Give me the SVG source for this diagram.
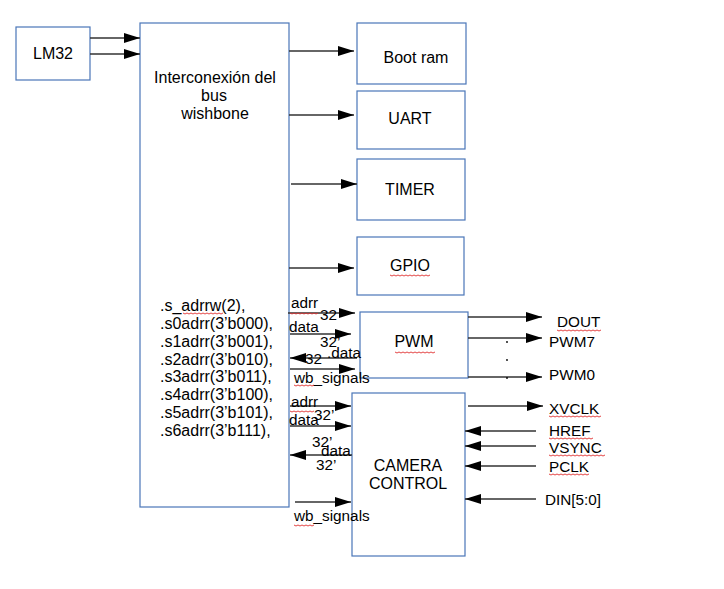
<svg xmlns="http://www.w3.org/2000/svg" width="724" height="589" viewBox="0 0 724 589">
<defs>
<marker id="ah" markerUnits="userSpaceOnUse" markerWidth="16" markerHeight="10" refX="16" refY="5" orient="auto">
<path d="M0,0 L16,5 L0,10 z" fill="#000"/>
</marker>
<style>
.box{fill:#fff;stroke:#4a76b8;stroke-width:1.2}
.t{font-family:"Liberation Sans",Arial,sans-serif;font-size:16px;fill:#000}
.s{font-family:"Liberation Sans",Arial,sans-serif;font-size:15.3px;fill:#000}
.c{text-anchor:middle}
.ln{stroke:#333;stroke-width:1.3;fill:none;marker-end:url(#ah)}
.sq{stroke:#e03030;stroke-width:0.9;fill:none}
</style>
</defs>
<rect width="724" height="589" fill="#fff"/>

<g id="lm32"><rect class="box" x="16" y="27" width="74" height="53"/><text class="t c" x="53" y="59">LM32</text></g>
<g id="bus"><rect class="box" x="140" y="23" width="149" height="484"/>
<text class="t c" x="215" y="83">Interconexión del</text>
<text class="t c" x="214" y="101">bus</text>
<text class="t c" x="215" y="119">wishbone</text>
<text class="t" x="160" y="311">.s_adrrw(2),</text>
<text class="t" x="160" y="329">.s0adrr(3’b000),</text>
<text class="t" x="160" y="347">.s1adrr(3’b001),</text>
<text class="t" x="160" y="365">.s2adrr(3’b010),</text>
<text class="t" x="160" y="382">.s3adrr(3’b011),</text>
<text class="t" x="160" y="400">.s4adrr(3’b100),</text>
<text class="t" x="160" y="418">.s5adrr(3’b101),</text>
<text class="t" x="160" y="436">.s6adrr(3’b111),</text>
</g>
<g id="bootram"><rect class="box" x="357" y="23" width="109" height="61"/><text class="t c" x="416" y="63">Boot ram</text></g>
<g id="uart"><rect class="box" x="357" y="91" width="108" height="58"/><text class="t c" x="410" y="124">UART</text></g>
<g id="timer"><rect class="box" x="357" y="159" width="108" height="61"/><text class="t c" x="410" y="195">TIMER</text></g>
<g id="gpio"><rect class="box" x="357" y="237" width="107" height="58"/><text class="t c" x="410" y="271">GPIO</text></g>
<g id="pwm"><rect class="box" x="360" y="312" width="108" height="66"/><text class="t c" x="414" y="347">PWM</text></g>
<g id="camera"><rect class="box" x="352" y="393" width="113" height="163"/>
<text class="t c" x="408" y="471">CAMERA</text>
<text class="t c" x="408" y="489">CONTROL</text></g>

<g id="connectors">
<line class="ln" x1="90" y1="38" x2="140" y2="38"/>
<line class="ln" x1="90" y1="54" x2="140" y2="54"/>
<line class="ln" x1="289" y1="51" x2="354" y2="51"/>
<line class="ln" x1="289" y1="115" x2="354" y2="115"/>
<line class="ln" x1="291" y1="184" x2="357" y2="184"/>
<line class="ln" x1="289" y1="268" x2="354" y2="268"/>
<line class="ln" x1="288" y1="313" x2="355" y2="313"/>
<line class="ln" x1="290" y1="334" x2="351" y2="334"/>
<line class="ln" x1="357" y1="358" x2="290" y2="358"/>
<line class="ln" x1="290" y1="369" x2="355" y2="369"/>
<line class="ln" x1="468" y1="317" x2="542" y2="317"/>
<line class="ln" x1="468" y1="338" x2="542" y2="338"/>
<line class="ln" x1="468" y1="377" x2="542" y2="377"/>
<line class="ln" x1="290" y1="406" x2="351" y2="406"/>
<line class="ln" x1="290" y1="426" x2="351" y2="426"/>
<line class="ln" x1="352" y1="455" x2="290" y2="455"/>
<line class="ln" x1="295" y1="502" x2="351" y2="502"/>
<line class="ln" x1="468" y1="406" x2="543" y2="406"/>
<line class="ln" x1="536" y1="431" x2="465" y2="431"/>
<line class="ln" x1="536" y1="446" x2="465" y2="446"/>
<line class="ln" x1="536" y1="466" x2="465" y2="466"/>
<line class="ln" x1="536" y1="499" x2="465" y2="499"/>
</g>

<g id="labels">
<text class="s" x="291" y="308">adrr</text>
<text class="s" x="320" y="320">32</text>
<text class="s" x="289" y="332">data</text>
<text class="s" x="320" y="347">32’</text>
<text class="s" x="327" y="358">.data</text>
<text class="s" x="305" y="364">32</text>
<text class="s" x="294" y="383">wb_signals</text>
<text class="s" x="291" y="407">adrr</text>
<text class="s" x="314" y="420">32’</text>
<text class="s" x="289" y="425">data</text>
<text class="s" x="312" y="447">32’</text>
<text class="s" x="321" y="456">data</text>
<text class="s" x="316" y="470">32’</text>
<text class="s" x="294" y="521">wb_signals</text>
<text class="s" x="557" y="327">DOUT</text>
<text class="s" x="549" y="347">PWM7</text>
<text class="s" x="549" y="380">PWM0</text>
<circle cx="507" cy="342" r="0.9" fill="#000"/>
<circle cx="507" cy="360" r="0.9" fill="#000"/>
<circle cx="507" cy="378" r="0.9" fill="#000"/>
<text class="s" x="549" y="414">XVCLK</text>
<text class="s" x="549" y="436">HREF</text>
<text class="s" x="549" y="453">VSYNC</text>
<text class="s" x="549" y="472">PCLK</text>
<text class="s" x="545" y="505">DIN[5:0]</text>
</g>

<g id="spellcheck">
<path class="sq" d="M390,275 l2,1 2,-1 2,1 2,-1 2,1 2,-1 2,1 2,-1 2,1 2,-1 2,1 2,-1 2,1 2,-1 2,1 2,-1 2,1 2,-1 2,1 2,-1"/>
<path class="sq" d="M395,352 l2,1 2,-1 2,1 2,-1 2,1 2,-1 2,1 2,-1 2,1 2,-1 2,1 2,-1 2,1 2,-1 2,1 2,-1 2,1 2,-1 2,1 2,-1"/>
<path class="sq" d="M290,313 l2,1 2,-1 2,1 2,-1 2,1 2,-1 2,1 2,-1 2,1 2,-1 2,1 2,-1 2,1 2,-1"/>
<path class="sq" d="M294,385 l2,1 2,-1 2,1 2,-1 2,1 2,-1 2,1 2,-1 2,1 2,-1"/>
<path class="sq" d="M557,330 l2,1 2,-1 2,1 2,-1 2,1 2,-1 2,1 2,-1 2,1 2,-1 2,1 2,-1 2,1 2,-1 2,1 2,-1 2,1 2,-1 2,1 2,-1 2,1 2,-1"/>
<path class="sq" d="M183,313 l2,1 2,-1 2,1 2,-1 2,1 2,-1 2,1 2,-1 2,1 2,-1 2,1 2,-1 2,1 2,-1 2,1 2,-1 2,1 2,-1 2,1 2,-1"/>
<path class="sq" d="M290,411 l2,1 2,-1 2,1 2,-1 2,1 2,-1 2,1 2,-1 2,1 2,-1 2,1 2,-1"/>
<path class="sq" d="M294,525 l2,1 2,-1 2,1 2,-1 2,1 2,-1 2,1 2,-1 2,1 2,-1"/>
<path class="sq" d="M549,416 l2,1 2,-1 2,1 2,-1 2,1 2,-1 2,1 2,-1 2,1 2,-1 2,1 2,-1 2,1 2,-1 2,1 2,-1 2,1 2,-1 2,1 2,-1 2,1 2,-1 2,1 2,-1 2,1 2,-1"/>
<path class="sq" d="M549,438 l2,1 2,-1 2,1 2,-1 2,1 2,-1 2,1 2,-1 2,1 2,-1 2,1 2,-1 2,1 2,-1 2,1 2,-1 2,1 2,-1 2,1 2,-1 2,1 2,-1"/>
<path class="sq" d="M549,455 l2,1 2,-1 2,1 2,-1 2,1 2,-1 2,1 2,-1 2,1 2,-1 2,1 2,-1 2,1 2,-1 2,1 2,-1 2,1 2,-1 2,1 2,-1 2,1 2,-1 2,1 2,-1 2,1 2,-1 2,1 2,-1"/>
<path class="sq" d="M549,474 l2,1 2,-1 2,1 2,-1 2,1 2,-1 2,1 2,-1 2,1 2,-1 2,1 2,-1 2,1 2,-1 2,1 2,-1 2,1 2,-1 2,1 2,-1"/>
</g>
</svg>
